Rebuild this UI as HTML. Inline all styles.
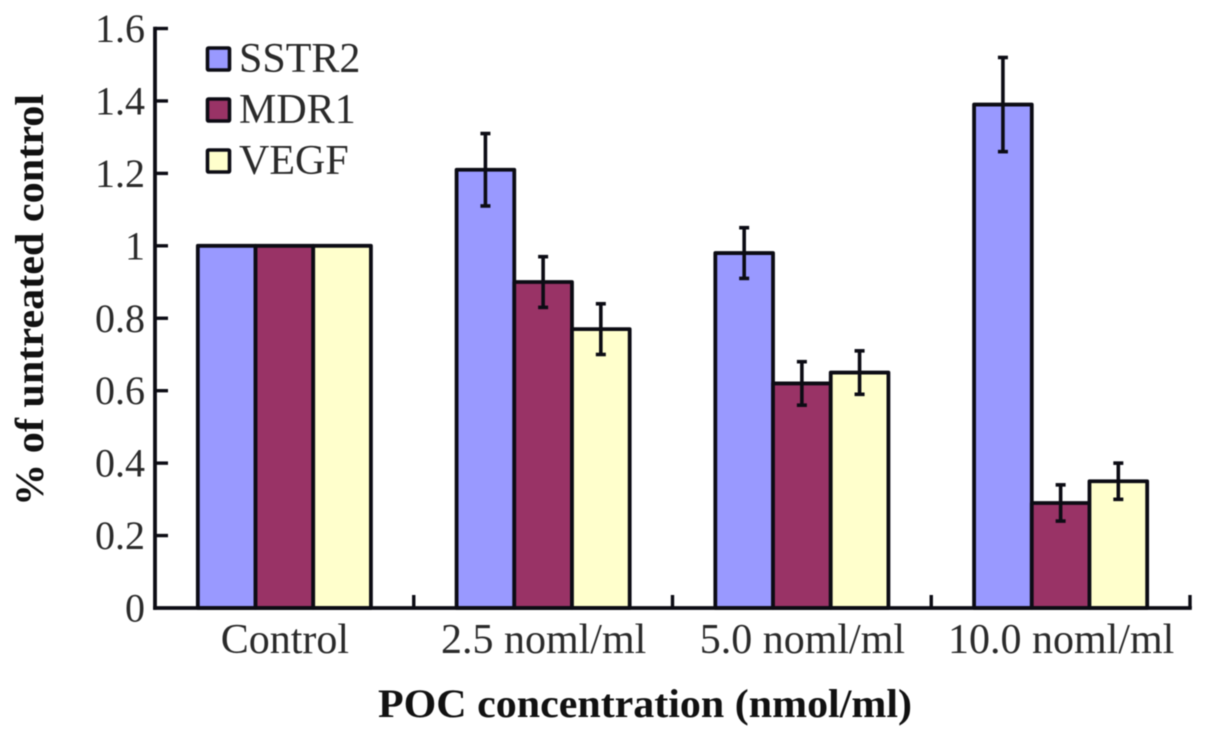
<!DOCTYPE html>
<html>
<head>
<meta charset="utf-8">
<style>
html,body{margin:0;padding:0;background:#fff;}
svg{display:block;filter:blur(0.6px);}
text{font-family:"Liberation Serif",serif;fill:#2a2a2a;}
</style>
</head>
<body>
<svg id="chart" width="1205" height="738" viewBox="0 0 1205 738" xmlns="http://www.w3.org/2000/svg">
<g id="bars"></g>
<g id="axes"></g>
<g id="legend"></g>
<text x="645" y="717" text-anchor="middle" font-size="40" font-weight="bold" textLength="534" lengthAdjust="spacingAndGlyphs" style="fill:#111">POC concentration (nmol/ml)</text>
<text transform="translate(43,300) rotate(-90)" text-anchor="middle" font-size="40" font-weight="bold" textLength="412" lengthAdjust="spacingAndGlyphs" style="fill:#111">% of untreated control</text>
</svg>
<script>
var categories = ['Control', '2.5 noml/ml', '5.0 noml/ml', '10.0 noml/ml'];
var seriesNames = ['SSTR2', 'MDR1', 'VEGF'];
var seriesColors = ['#9999ff', '#993366', '#ffffcc'];
var sstr2 = [1, 1.21, 0.98, 1.39];
var mdr1 = [1, 0.90, 0.62, 0.29];
var vegf = [1, 0.77, 0.65, 0.35];
var sstr2Err = [0, 0.10, 0.07, 0.13];
var mdr1Err = [0, 0.07, 0.06, 0.05];
var vegfErr = [0, 0.07, 0.06, 0.05];
var yTicks = [0, 0.2, 0.4, 0.6, 0.8, 1, 1.2, 1.4, 1.6];

var NS = 'http://www.w3.org/2000/svg';
var seriesValues = [sstr2, mdr1, vegf];
var seriesErrors = [sstr2Err, mdr1Err, vegfErr];
var plotLeft = 155, plotRight = 1190, plotBottom = 608, plotTop = 28.5;
var barWidth = 57.7;

function yScale(v) { return plotBottom - (v / 1.6) * (plotBottom - plotTop); }
function bandWidth() { return (plotRight - plotLeft) / categories.length; }
function xCenter(i) { return plotLeft + bandWidth() * (i + 0.5); }
function make(tag, attrs, parent) {
  var el = document.createElementNS(NS, tag);
  for (var k in attrs) el.setAttribute(k, attrs[k]);
  parent.appendChild(el);
  return el;
}
function segment(x1, y1, x2, y2, w, parent) {
  return make('line', {x1: x1, y1: y1, x2: x2, y2: y2, stroke: '#0c0c14', 'stroke-width': w}, parent);
}

var barsG = document.getElementById('bars');
var axesG = document.getElementById('axes');
var legendG = document.getElementById('legend');

categories.forEach(function (cat, i) {
  seriesValues.forEach(function (vals, s) {
    var x = xCenter(i) + (s - 1.5) * barWidth;
    var y = yScale(vals[i]);
    var bar = make('rect', {x: x, y: y, width: barWidth, height: plotBottom - y, fill: seriesColors[s], stroke: '#0c0c14', 'stroke-width': 3.8, 'stroke-linejoin': 'round'}, barsG);
    
    
  });
});

categories.forEach(function (cat, i) {
  seriesValues.forEach(function (vals, s) {
    var err = seriesErrors[s][i];
    if (!err) return;
    var cx = xCenter(i) + (s - 1) * barWidth;
    var hi = yScale(vals[i] + err), lo = yScale(vals[i] - err);
    var g = make('g', {}, barsG);
    
    
    segment(cx, hi, cx, lo, 3.6, g);
    segment(cx - 5, hi, cx + 5, hi, 3.6, g);
    segment(cx - 5, lo, cx + 5, lo, 3.6, g);
  });
});

var yAxisLine = segment(plotLeft, plotTop - 1.8, plotLeft, plotBottom + 1.8, 3.8, axesG);


var xAxisLine = segment(plotLeft - 1.8, plotBottom, plotRight + 1.8, plotBottom, 3.8, axesG);



yTicks.forEach(function (t) {
  var y = yScale(t);
  if (t > 0) {
    var tick = segment(plotLeft, y, plotLeft + 13, y, 3.4, axesG);
    
    
  }
  var label = make('text', {x: 145, y: y + 13.5, 'text-anchor': 'end', 'font-size': 40}, axesG);
  label.textContent = String(t);
  
  
});

categories.forEach(function (cat, i) {
  var tx = plotLeft + bandWidth() * (i + 1);
  var tick = segment(tx, plotBottom - 13, tx, plotBottom, 3.4, axesG);
  
  
  var label = make('text', {x: xCenter(i) + 0.5, y: 653, 'text-anchor': 'middle', 'font-size': 42}, axesG);
  label.textContent = cat;
  
  
});

seriesNames.forEach(function (name, s) {
  var ly = 59 + s * 51;
  var entry = make('g', {}, legendG);
  
  
  make('rect', {x: 207.5, y: ly - 11, width: 22, height: 22, fill: seriesColors[s], stroke: '#0c0c14', 'stroke-width': 3.6, rx: 1}, entry);
  var label = make('text', {x: 239, y: ly + 13, 'font-size': 42}, entry);
  label.textContent = name;
});
</script>
</body>
</html>
